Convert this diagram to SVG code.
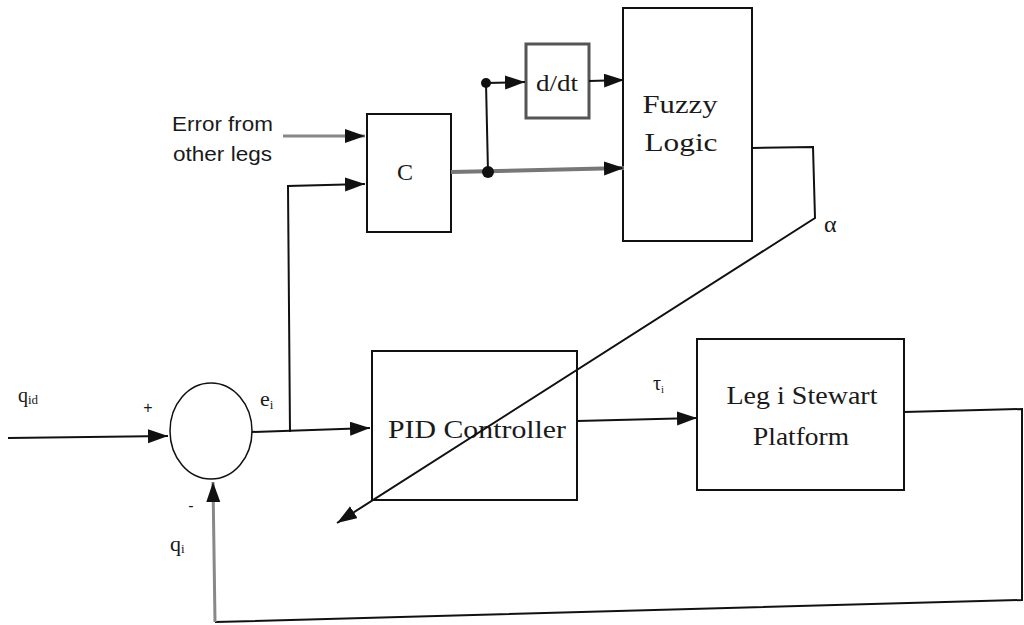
<svg xmlns="http://www.w3.org/2000/svg" width="1024" height="625" viewBox="0 0 1024 625">
<defs>
<style>
.box{fill:none;stroke:#111;stroke-width:2}
.ln{fill:none;stroke:#111;stroke-width:2}
.gr{fill:none;stroke:#777;stroke-width:4}
.gr2{fill:none;stroke:#888;stroke-width:3}
.sf{font-family:"Liberation Serif","Times New Roman",serif;fill:#1a1a1a}
.ss{font-family:"Liberation Sans",Arial,sans-serif;fill:#1a1a1a}
</style>
<marker id="ah" markerUnits="userSpaceOnUse" markerWidth="22" markerHeight="16" refX="20" refY="7" orient="auto">
<path d="M0,0 L20,7 L0,14 z" fill="#111"/>
</marker>
</defs>
<rect width="1024" height="625" fill="#fff"/>

<g id="error-label">
<text class="ss" x="172" y="131" font-size="20" textLength="101" lengthAdjust="spacingAndGlyphs">Error from</text>
<text class="ss" x="173" y="161" font-size="20" textLength="99" lengthAdjust="spacingAndGlyphs">other legs</text>
</g>

<g id="node-C">
<rect class="box" x="367" y="114" width="84" height="118"/>
<text class="sf" x="405" y="180" font-size="24" text-anchor="middle">C</text>
</g>

<g id="node-ddt">
<rect x="526" y="44" width="63" height="74" fill="none" stroke="#555" stroke-width="3"/>
<text class="sf" x="557" y="91" font-size="24" text-anchor="middle" textLength="42" lengthAdjust="spacingAndGlyphs">d/dt</text>
</g>

<g id="node-fuzzy">
<rect class="box" x="623" y="8" width="129" height="233"/>
<text class="sf" x="680" y="113" font-size="26" text-anchor="middle" textLength="75" lengthAdjust="spacingAndGlyphs">Fuzzy</text>
<text class="sf" x="681" y="151" font-size="26" text-anchor="middle" textLength="73" lengthAdjust="spacingAndGlyphs">Logic</text>
</g>

<g id="node-sum">
<ellipse cx="211" cy="431" rx="41" ry="48" fill="none" stroke="#111" stroke-width="1.5"/>
</g>

<g id="node-pid">
<rect class="box" x="372" y="351" width="205" height="149"/>
<text class="sf" x="477" y="438" font-size="26" text-anchor="middle" textLength="178" lengthAdjust="spacingAndGlyphs">PID Controller</text>
</g>

<g id="node-leg">
<rect class="box" x="697" y="339" width="207" height="151"/>
<text class="sf" x="802" y="404" font-size="26" text-anchor="middle" textLength="151" lengthAdjust="spacingAndGlyphs">Leg i Stewart</text>
<text class="sf" x="801" y="445" font-size="26" text-anchor="middle" textLength="96" lengthAdjust="spacingAndGlyphs">Platform</text>
</g>

<g id="connectors">
<path class="gr2" d="M283,136 L365,136" marker-end="url(#ah)"/>
<path class="ln" d="M290,432 L288,186 L365,184" marker-end="url(#ah)"/>
<path class="ln" d="M8,438 L168,436" marker-end="url(#ah)"/>
<path class="ln" d="M252,432 L370,428" marker-end="url(#ah)"/>
<path class="gr" d="M451,172 L624,168" marker-end="url(#ah)"/>
<path class="ln" d="M488,172 L486,83 L525,82" marker-end="url(#ah)"/>
<path class="ln" d="M589,81 L624,80" marker-end="url(#ah)"/>
<path class="ln" d="M752,148 L813,147 L815,218 L337,523" marker-end="url(#ah)"/>
<path class="ln" d="M577,421 L697,418" marker-end="url(#ah)"/>
<path class="ln" d="M904,412 L1022,409 L1022,600 L215,622"/>
<path class="gr2" d="M215,622 L213,482" marker-end="url(#ah)"/>
<circle cx="488" cy="172" r="6" fill="#111"/>
<circle cx="486" cy="83" r="5" fill="#111"/>
</g>

<g id="labels">
<text class="sf" x="18" y="402" font-size="20">q<tspan font-size="13" dy="2">id</tspan></text>
<text class="ss" x="148" y="413" font-size="16" text-anchor="middle">+</text>
<text class="sf" x="260" y="406" font-size="22">e<tspan font-size="13" dy="3">i</tspan></text>
<text class="sf" x="653" y="390" font-size="20">τ<tspan font-size="11" dy="3">i</tspan></text>
<text class="sf" x="824" y="232" font-size="24">α</text>
<text class="ss" x="191" y="511" font-size="16" text-anchor="middle">-</text>
<text class="sf" x="170" y="551" font-size="22">q<tspan font-size="13" dy="2">i</tspan></text>
</g>
</svg>
